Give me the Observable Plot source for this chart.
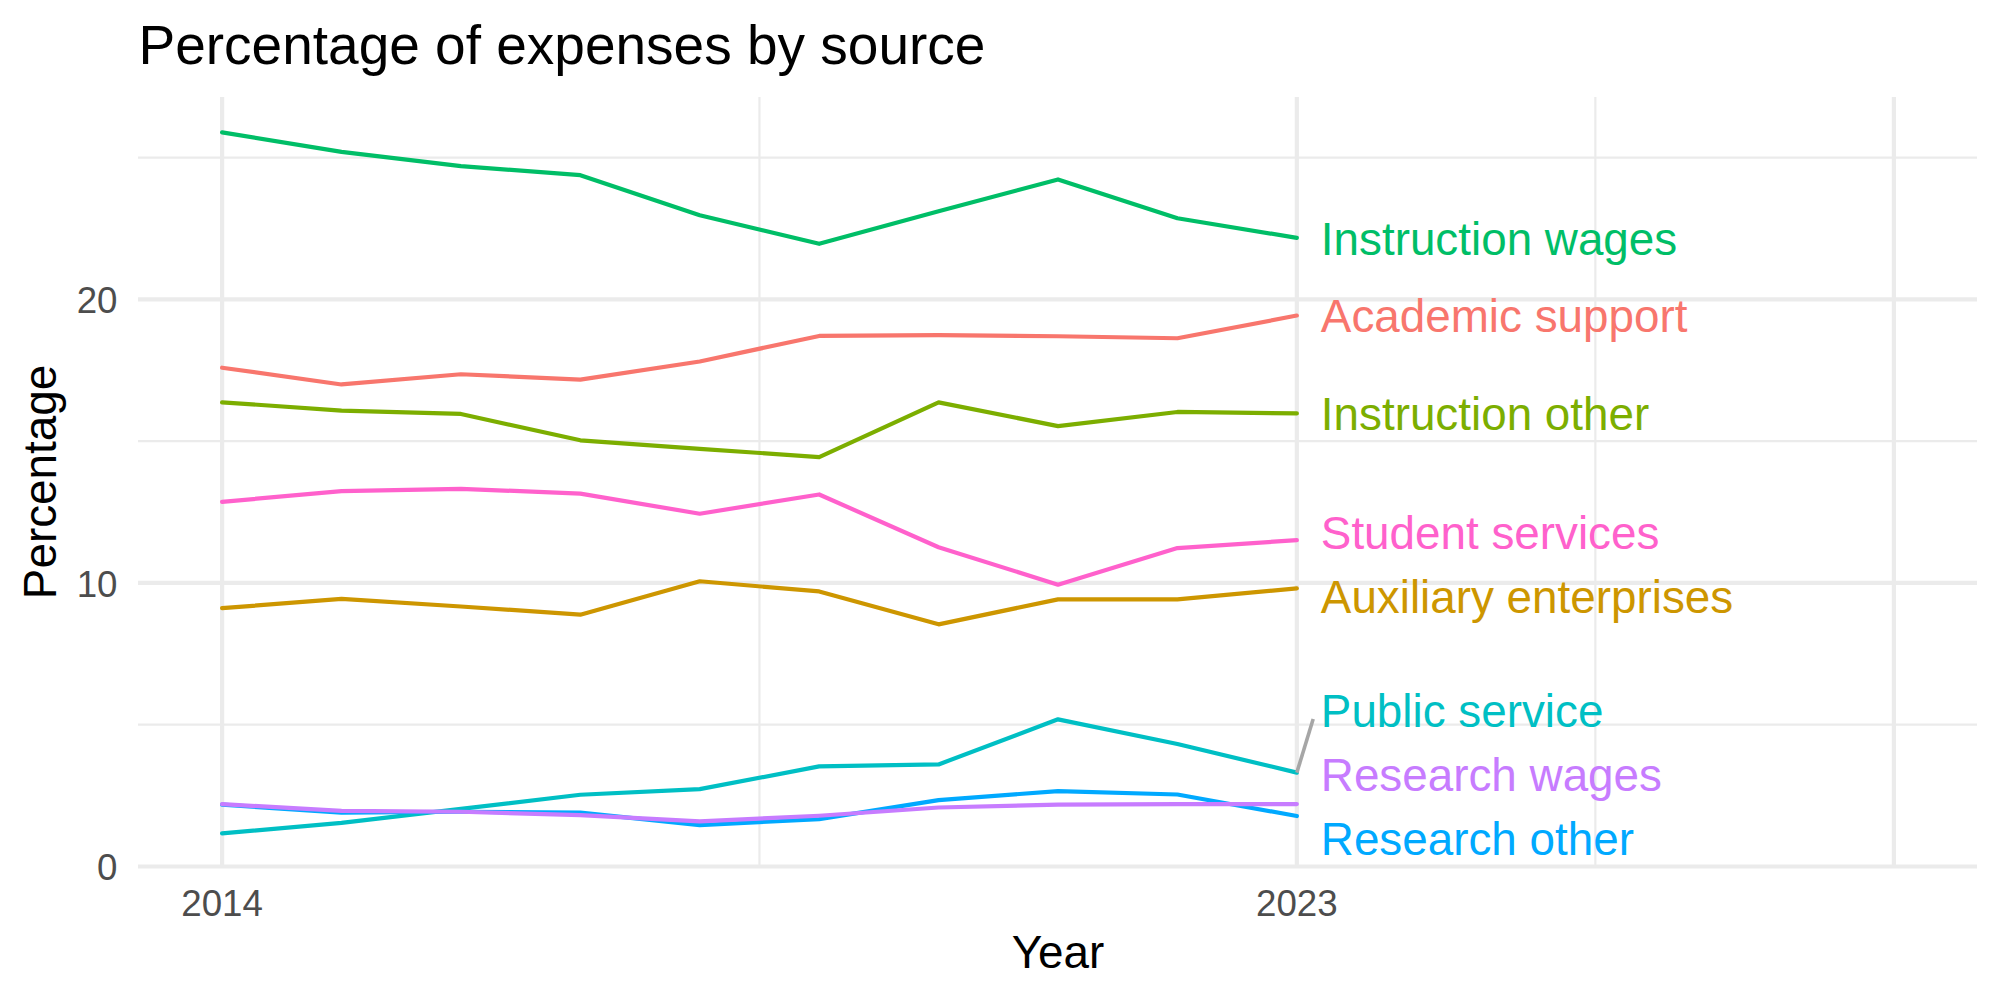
<!DOCTYPE html>
<html>
<head>
<meta charset="utf-8">
<script src="https://cdn.jsdelivr.net/npm/d3@7"></script>
<script src="https://cdn.jsdelivr.net/npm/@observablehq/plot@0.6"></script>
<style>
  html, body { margin: 0; padding: 0; background: #ffffff; }
  #chart svg { display: block; }
</style>
</head>
<body>
<div id="chart"></div>
<script>
// Share of total expenses by source, 2014–2023 (percent)
const years = [2014, 2015, 2016, 2017, 2018, 2019, 2020, 2021, 2022, 2023];

const academicSupport      = [17.59, 17.00, 17.36, 17.17, 17.81, 18.71, 18.74, 18.70, 18.63, 19.43];
const auxiliaryEnterprises = [9.11, 9.44, 9.17, 8.88, 10.06, 9.70, 8.54, 9.42, 9.42, 9.81];
const instructionOther     = [16.37, 16.08, 15.96, 15.03, 14.73, 14.44, 16.37, 15.53, 16.03, 15.98];
const instructionWages     = [25.89, 25.20, 24.70, 24.38, 22.97, 21.96, 23.11, 24.23, 22.86, 22.17];
const publicService        = [1.17, 1.54, 2.03, 2.53, 2.73, 3.53, 3.60, 5.19, 4.32, 3.31];
const researchOther        = [2.18, 1.90, 1.93, 1.90, 1.46, 1.67, 2.34, 2.66, 2.54, 1.78];
const researchWages        = [2.20, 1.96, 1.93, 1.81, 1.59, 1.79, 2.08, 2.18, 2.20, 2.20];
const studentServices      = [12.86, 13.24, 13.32, 13.15, 12.44, 13.12, 11.26, 9.94, 11.23, 11.51];

const categories = [
  "Academic support", "Auxiliary enterprises", "Instruction other", "Instruction wages",
  "Public service", "Research other", "Research wages", "Student services"
];
const seriesValues = [
  academicSupport, auxiliaryEnterprises, instructionOther, instructionWages,
  publicService, researchOther, researchWages, studentServices
];

// Axis breaks and their labels (the last break is left unlabeled)
const xBreaks = [2014, 2023, 2028];
const xLabels = ["2014", "2023", ""];
const yBreaks = [0, 10, 20];

// Long table for the line mark
const rows = categories.flatMap((name, k) =>
  seriesValues[k].map((v, i) => ({year: years[i], source: name, pct: v}))
);

// Minor grid lines sit halfway between the major breaks
const mid = (b) => b.slice(1).map((v, i) => (v + b[i]) / 2);
const xMinor = mid(xBreaks);
const yMinor = mid(yBreaks).concat([yBreaks[yBreaks.length - 1] + (yBreaks[1] - yBreaks[0]) / 2]);

// End-of-line labels, pushed apart vertically so they do not collide
const lastYear = years[years.length - 1];
const ends = categories.map((name, k) => {
  const v = seriesValues[k][seriesValues[k].length - 1];
  return {source: name, year: lastYear, value: v, ly: v};
});
const minGap = 2.25, floorY = 1.0;
const order = [...ends].sort((a, b) => b.value - a.value);
for (let it = 0; it < 600; it++) {
  for (let i = 0; i < order.length - 1; i++) {
    const a = order[i], b = order[i + 1];
    const overlap = minGap - (a.ly - b.ly);
    if (overlap > 0) { a.ly += overlap / 2; b.ly -= overlap / 2; }
  }
  order.forEach(d => { if (d.ly < floorY) d.ly = floorY; });
}
// Leader segments for labels that moved far from their line end
const halfBox = 0.3;
const leaders = ends
  .map(d => ({...d, ey: Math.max(d.ly - halfBox, Math.min(d.value, d.ly + halfBox))}))
  .filter(d => Math.abs(d.ey - d.value) > 1.0);

const palette = ["#F8766D", "#CD9600", "#7CAE00", "#00BE67", "#00BFC4", "#00A9FF", "#C77CFF", "#FF61CC"];
const grid = "#ebebeb";

const chart = Plot.plot({
  width: 2000,
  height: 1000,
  marginLeft: 138,
  marginRight: 23,
  marginTop: 97,
  marginBottom: 134,
  style: {fontFamily: "'Liberation Sans', Arial, Helvetica, sans-serif", background: "#ffffff", color: "#000"},
  x: {domain: [2013.3, 2028.7]},
  y: {domain: [0, 27.12]},
  color: {domain: categories, range: palette},
  marks: [
    Plot.gridX(xMinor, {stroke: grid, strokeOpacity: 1, strokeWidth: 2.2}),
    Plot.gridY(yMinor, {stroke: grid, strokeOpacity: 1, strokeWidth: 2.2}),
    Plot.gridX(xBreaks, {stroke: grid, strokeOpacity: 1, strokeWidth: 4.2}),
    Plot.gridY(yBreaks, {stroke: grid, strokeOpacity: 1, strokeWidth: 4.2}),
    Plot.axisX(xBreaks, {
      tickSize: 0, tickPadding: 23, fontSize: 36.7, color: "#4d4d4d", label: null,
      tickFormat: d => xLabels[xBreaks.indexOf(d)]
    }),
    Plot.axisY(yBreaks, {
      tickSize: 0, tickPadding: 21, fontSize: 36.7, color: "#4d4d4d", label: null, dy: 2,
      tickFormat: d => String(d)
    }),
    Plot.line(rows, {x: "year", y: "pct", stroke: "source", z: "source", strokeWidth: 4.2}),
    Plot.link(leaders, {
      x1: "year", y1: "value", x2: d => d.year + 0.137, y2: "ey",
      stroke: "#a6a6a6", strokeWidth: 3.6
    }),
    Plot.text(ends, {
      x: "year", y: "ly", text: "source", fill: "source",
      textAnchor: "start", lineAnchor: "middle", dx: 24, dy: 2, fontSize: 45.8
    }),
    Plot.text(["Percentage of expenses by source"], {
      frameAnchor: "top-left", text: d => d, textAnchor: "start", lineAnchor: "bottom",
      dy: -34, fontSize: 55, fill: "#000"
    }),
    Plot.text(["Percentage"], {
      frameAnchor: "left", text: d => d, rotate: -90, textAnchor: "middle", lineAnchor: "bottom",
      dx: -83, fontSize: 45.8, fill: "#000"
    }),
    Plot.text(["Year"], {
      frameAnchor: "bottom", text: d => d, textAnchor: "middle", lineAnchor: "bottom",
      dy: 101, fontSize: 45.8, fill: "#000"
    })
  ]
});

document.getElementById("chart").appendChild(chart);
</script>
</body>
</html>
